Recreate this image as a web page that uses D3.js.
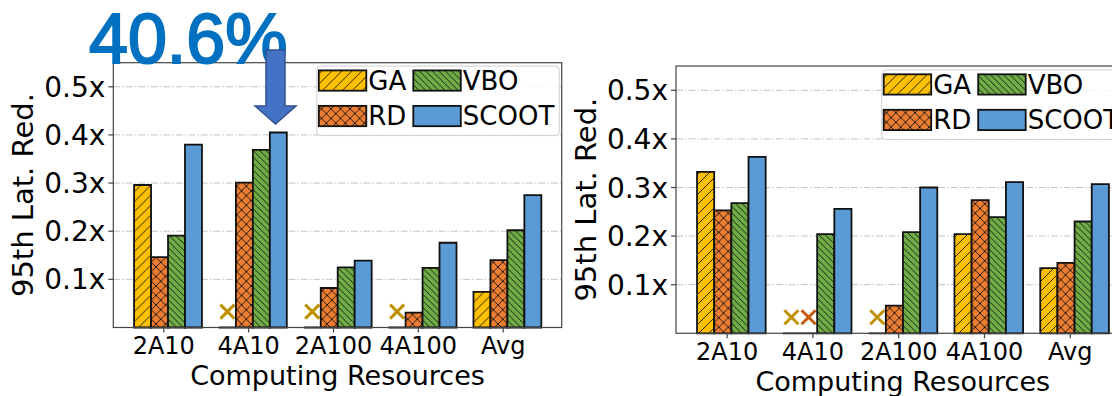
<!DOCTYPE html>
<style>
  body { margin: 0; background: #fff; }
  text { font-family: "DejaVu Sans", sans-serif; fill: #000; }
  .grid line { stroke: #c4c4c4; stroke-width: 1; stroke-dasharray: 7,2,1.5,2; }
  .spine { fill: none; stroke: #444; stroke-width: 1.2; }
</style>
<body>
<script src="https://d3js.org/d3.v7.min.js"></script>
<script>
// categories and series (null = run failed, drawn as x)
var categories = ["2A10", "4A10", "2A100", "4A100", "Avg"];
var methods = ["GA", "RD", "VBO", "SCOOT"];
var yTicks = [0.1, 0.2, 0.3, 0.4, 0.5];
var yTickLabels = ["0.1x", "0.2x", "0.3x", "0.4x", "0.5x"];

var leftGA    = [0.296, null, null, null, 0.074];
var leftRD    = [0.146, 0.301, 0.082, 0.031, 0.140];
var leftVBO   = [0.191, 0.369, 0.125, 0.124, 0.202];
var leftSCOOT = [0.380, 0.405, 0.139, 0.176, 0.275];

var rightGA    = [0.332, null, null, 0.204, 0.134];
var rightRD    = [0.253, null, 0.057, 0.274, 0.145];
var rightVBO   = [0.268, 0.204, 0.208, 0.239, 0.230];
var rightSCOOT = [0.363, 0.256, 0.300, 0.311, 0.307];

var calloutText = "40.6%";

// styles
var fills = { GA: "#FFC000", RD: "#ED7D31", VBO: "#70AD47", SCOOT: "#5B9BD5" };
var failColors = { GA: "#BF9000", RD: "#C55A11" };

var svg = d3.select("body").append("svg")
    .attr("width", 1112)
    .attr("height", 396);

// hatch patterns
var defs = svg.append("defs");
function hatch(id, color, size, d) {
  var p = defs.append("pattern")
      .attr("id", id)
      .attr("patternUnits", "userSpaceOnUse")
      .attr("width", size).attr("height", size);
  p.append("rect").attr("width", size).attr("height", size).attr("fill", color);
  if (d) p.append("path").attr("d", d).attr("stroke", "#111").attr("stroke-width", 0.9).attr("fill", "none");
}
var s1 = 10, s2 = 9.5, s3 = 6.5;
hatch("h-GA", fills.GA, s1, "M0," + s1 + "L" + s1 + ",0M-3,3L3,-3M" + (s1 - 3) + "," + (s1 + 3) + "L" + (s1 + 3) + "," + (s1 - 3));
hatch("h-RD", fills.RD, s2, "M0," + s2 + "L" + s2 + ",0M-3,3L3,-3M" + (s2 - 3) + "," + (s2 + 3) + "L" + (s2 + 3) + "," + (s2 - 3) +
      "M0,0L" + s2 + "," + s2 + "M-3," + (s2 - 3) + "L3," + (s2 + 3) + "M" + (s2 - 3) + ",-3L" + (s2 + 3) + ",3");
hatch("h-VBO", fills.VBO, s3, "M0,0L" + s3 + "," + s3 + "M-3," + (s3 - 3) + "L3," + (s3 + 3) + "M" + (s3 - 3) + ",-3L" + (s3 + 3) + ",3");
hatch("h-SCOOT", fills.SCOOT, s3, null);

function drawPanel(cfg, series) {
  var g = svg.append("g").attr("transform", "translate(" + cfg.left + "," + cfg.top + ")");

  var x = d3.scaleLinear().domain([-0.645, 4.64]).range([0, cfg.width]);
  var y = d3.scaleLinear().domain([0, 0.55]).range([cfg.height, 0]);
  var bw = x(0.2) - x(0);

  // grid
  g.append("g").attr("class", "grid")
    .selectAll("line").data(yTicks).enter().append("line")
      .attr("x1", 0).attr("x2", cfg.width)
      .attr("y1", function(d) { return y(d); })
      .attr("y2", function(d) { return y(d); });

  // bars
  methods.forEach(function(m, mi) {
    var vals = series[m];
    vals.forEach(function(v, ci) {
      var xc = x(ci + (mi - 1.5) * 0.2);
      var top = y(v == null ? 0 : v);
      var x0 = xc - bw / 2;
      g.append("path")
        .attr("d", "M" + x0 + "," + y(0) + "V" + top + "H" + (x0 + bw) + "V" + y(0) + "Z")
        .attr("fill", "url(#h-" + m + ")")
        .attr("stroke", "#111")
        .attr("stroke-width", 1.8);
      if (v == null) {
        var mx = xc, my = y(0.033), r = 7;
        g.append("path")
          .attr("d", "M" + (mx - r) + "," + (my - r) + "L" + (mx + r) + "," + (my + r) +
                     "M" + (mx - r) + "," + (my + r) + "L" + (mx + r) + "," + (my - r))
          .attr("stroke", failColors[m])
          .attr("stroke-width", 3);
      }
    });
  });

  // frame
  g.append("rect").attr("class", "spine")
    .attr("width", cfg.width).attr("height", cfg.height);

  // y axis ticks
  yTicks.forEach(function(t, i) {
    g.append("line").attr("x1", -5).attr("x2", 0)
      .attr("y1", y(t)).attr("y2", y(t))
      .attr("stroke", "#444").attr("stroke-width", 1.2);
    g.append("text").attr("x", -8).attr("y", y(t)).attr("dy", "0.36em")
      .attr("text-anchor", "end").style("font-size", "28px")
      .text(yTickLabels[i]);
  });

  // x axis ticks
  categories.forEach(function(c, i) {
    var xt = x(i - 0.05);
    g.append("line").attr("x1", xt).attr("x2", xt)
      .attr("y1", cfg.height).attr("y2", cfg.height + 5)
      .attr("stroke", "#444").attr("stroke-width", 1.2);
    g.append("text").attr("x", xt).attr("y", cfg.height + 26.5)
      .attr("text-anchor", "middle").style("font-size", "24px")
      .text(c);
  });

  g.append("text")
    .attr("x", cfg.width / 2).attr("y", cfg.height + 58)
    .attr("text-anchor", "middle").style("font-size", "27px")
    .text("Computing Resources");

  g.append("text")
    .attr("transform", "translate(-80," + (cfg.height / 2) + ") rotate(-90)")
    .attr("text-anchor", "middle").style("font-size", "29px")
    .text("95th Lat. Red.");

  // legend
  var lg = g.append("g").attr("transform", "translate(" + cfg.legX + "," + cfg.legY + ")");
  lg.append("rect")
    .attr("width", 242.5).attr("height", 69.5).attr("rx", 4)
    .attr("fill", "#fff").attr("fill-opacity", 0.8)
    .attr("stroke", "#d0d0d0").attr("stroke-width", 1);
  var order = [["GA", 0, 0], ["RD", 0, 1], ["VBO", 1, 0], ["SCOOT", 1, 1]];
  order.forEach(function(o) {
    var px = 2 + o[1] * 94.5, py = 4.3 + o[2] * 35.5;
    lg.append("rect")
      .attr("x", px).attr("y", py).attr("width", 47.5).attr("height", 20.3)
      .attr("fill", "url(#h-" + o[0] + ")")
      .attr("stroke", "#111").attr("stroke-width", 1.8);
    lg.append("text")
      .attr("x", px + 49.5).attr("y", py + 10.15).attr("dy", "0.36em")
      .style("font-size", "26px")
      .text(o[0]);
  });
  return g;
}

drawPanel({ left: 113.3, top: 62.7, width: 448.4, height: 264.8, legX: 203.5, legY: 3.4 },
          { GA: leftGA, RD: leftRD, VBO: leftVBO, SCOOT: leftSCOOT });
drawPanel({ left: 676, top: 66, width: 453.5, height: 267.3, legX: 205.7, legY: 4 },
          { GA: rightGA, RD: rightRD, VBO: rightVBO, SCOOT: rightSCOOT });

// callout
svg.append("text")
  .attr("x", 89).attr("y", 63.3)
  .style("font-family", "'Liberation Sans', Arial, sans-serif")
  .style("font-size", "70px")
  .style("fill", "#0070C0")
  .style("stroke", "#0070C0")
  .style("stroke-width", "2px")
  .text(calloutText);

svg.append("path")
  .attr("d", "M266,50H285V106H296L275.5,124L255,106H266Z")
  .attr("fill", "#4472C4")
  .attr("stroke", "#2F528F")
  .attr("stroke-width", 1.5)
  .attr("stroke-linejoin", "miter");
</script>
</body>
